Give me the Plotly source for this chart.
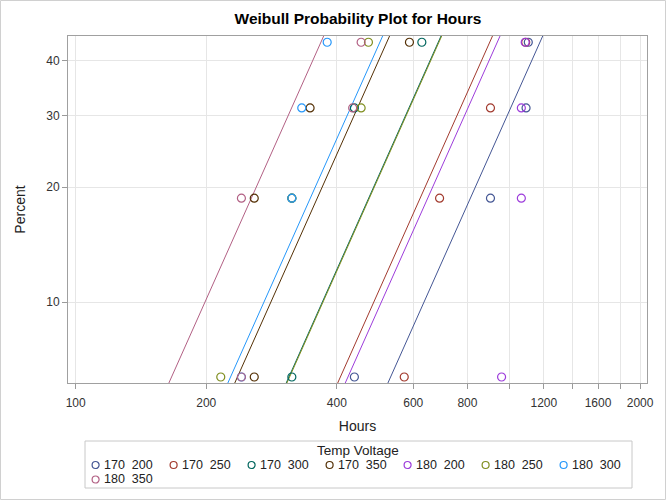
import numpy as np
import plotly.graph_objects as go

# ---- data (glass capacitor life test, hours to failure; 8 units per cell, 4 failures) ----
groups = ["170  200", "170  250", "170  300", "170  350",
          "180  200", "180  250", "180  300", "180  350"]
hours_170_200 = [439, 904, 1092, 1105]
hours_170_250 = [572, 690, 904, 1090]
hours_170_300 = [315, 315, 439, 628]
hours_170_350 = [258, 258, 347, 588]
hours_180_200 = [959, 1065, 1065, 1087]
hours_180_250 = [216, 315, 455, 473]
hours_180_300 = [241, 315, 332, 380]
hours_180_350 = [241, 241, 435, 455]
hours = [hours_170_200, hours_170_250, hours_170_300, hours_170_350,
         hours_180_200, hours_180_250, hours_180_300, hours_180_350]
percent = [6.25, 18.75, 31.25, 43.75]          # plotting positions
fit_scale = [1436, 1100, 837, 637, 1145, 840, 614, 449]   # fitted Weibull scale per group
fit_shape = 2.76                                # common fitted Weibull shape
y_ticks = [10, 20, 30, 40]
x_ticks = [100, 200, 400, 600, 800, 1000, 1200, 1400, 1600, 1800, 2000]
x_ticktext = ["100", "200", "400", "600", "800", "", "1200", "", "1600", "", "2000"]

colors = ["#445694", "#A23A2E", "#01665E", "#543005",
          "#9D3CDB", "#7F8E1F", "#2597FA", "#B26084"]


def wscale(p):
    p = np.asarray(p, dtype=float) / 100.0
    return np.log(-np.log(1.0 - p))


FONT = "Liberation Sans, Arial, sans-serif"
fig = go.Figure()

line_p = np.array([3.0, 60.0])
for g, a, c in zip(groups, fit_scale, colors):
    t = a * (-np.log(1 - line_p / 100.0)) ** (1.0 / fit_shape)
    fig.add_trace(go.Scatter(x=t, y=wscale(line_p), mode="lines",
                             line=dict(color=c, width=1), showlegend=False,
                             hoverinfo="skip"))

for g, h, c in zip(groups, hours, colors):
    fig.add_trace(go.Scatter(x=h, y=wscale(percent), mode="markers", name=g,
                             showlegend=False,
                             marker=dict(symbol="circle-open", size=8, color=c,
                                         line=dict(width=1.2, color=c))))

W, H = 666, 500
L, R, T, B = 68, 19, 36, 117
pw, ph = W - L - R, H - T - B


def px(x):  # pixel x -> paper x
    return (x - L) / pw


def py(y):  # pixel y -> paper y
    return (H - B - y) / ph


shapes = [
    # outer graph border
    dict(type="rect", xref="paper", yref="paper",
         x0=px(0.5), x1=px(W - 0.5), y0=py(H - 0.5), y1=py(0.5),
         line=dict(color="#d0d0d0", width=1), layer="below"),
    # legend box
    dict(type="rect", xref="paper", yref="paper",
         x0=px(85), x1=px(632), y0=py(488), y1=py(441),
         line=dict(color="#c8c8c8", width=1), fillcolor="white", layer="below"),
]
annotations = [
    dict(text="Temp Voltage", xref="paper", yref="paper", x=px(358), y=py(450),
         xanchor="center", yanchor="middle", showarrow=False,
         font=dict(family=FONT, size=13.5, color="#222222")),
]
r = 3.5
for i, (g, c) in enumerate(zip(groups, colors)):
    row, col = divmod(i, 7)
    cx = 95.6 + 78 * col
    cy = 465 + 14.5 * row
    shapes.append(dict(type="circle", xref="paper", yref="paper",
                       x0=px(cx - r), x1=px(cx + r), y0=py(cy + r), y1=py(cy - r),
                       line=dict(color=c, width=1.2)))
    annotations.append(dict(text=g.replace("  ", "\u00a0\u00a0"), xref="paper", yref="paper",
                            x=px(cx + 6), y=py(cy), xanchor="left", yanchor="middle",
                            showarrow=False,
                            font=dict(family=FONT, size=12.5, color="#222222")))

fig.update_layout(
    width=W, height=H,
    margin=dict(l=L, r=R, t=T, b=B, autoexpand=False),
    paper_bgcolor="white", plot_bgcolor="white",
    showlegend=False,
    font=dict(family=FONT, size=12, color="#333333"),
    title=dict(text="<b>Weibull Probability Plot for Hours</b>",
               x=358 / W, xanchor="center", y=1 - 19 / H, yanchor="middle",
               font=dict(family=FONT, size=15.5, color="black")),
    xaxis=dict(type="log", range=[np.log10(96.0), np.log10(2075.0)],
               tickvals=x_ticks, ticktext=x_ticktext, automargin=False,
               showgrid=True, gridcolor="#e6e6e6", gridwidth=1,
               ticks="outside", ticklen=5, tickcolor="#9a9a9a",
               ticklabelstandoff=4,
               showline=True, linecolor="#a0a0a0", mirror=True,
               zeroline=False, tickfont=dict(size=12, color="#333333"),
               title=dict(text="Hours", font=dict(size=14, color="#222222"), standoff=11)),
    yaxis=dict(range=[-2.7798, -0.5118], automargin=False,
               tickvals=list(wscale(y_ticks)), ticktext=[str(v) for v in y_ticks],
               showgrid=True, gridcolor="#e6e6e6", gridwidth=1,
               ticks="outside", ticklen=5, tickcolor="#9a9a9a",
               showline=True, linecolor="#a0a0a0", mirror=True,
               zeroline=False, tickfont=dict(size=12, color="#333333"),
               title=dict(text="Percent", font=dict(size=14, color="#222222"), standoff=17)),
    shapes=shapes,
    annotations=annotations,
)

fig.write_html("out.html", config={"displayModeBar": False},
               post_script="document.body.style.margin='0';document.body.style.overflow='hidden';")
